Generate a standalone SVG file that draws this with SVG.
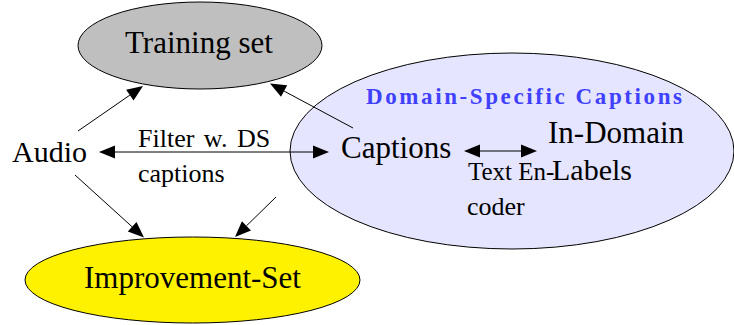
<svg xmlns="http://www.w3.org/2000/svg" width="734" height="325" viewBox="0 0 734 325">
  <style>
    .node { stroke: #000; stroke-width: 1; }
    .edge { stroke: #000; stroke-width: 1; fill: none; }
    .tip { fill: #000; stroke: none; }
  </style>

  <!-- domain-specific region -->
  <g id="domain-specific">
    <ellipse class="node" cx="512" cy="151" rx="222" ry="98" fill="#e5e5ff"/>
    <text x="366" y="104" font-family="Liberation Serif" font-size="23" font-weight="bold" letter-spacing="2.6" fill="#4040ff">Domain-Specific Captions</text>
  </g>

  <g id="training-set">
    <ellipse class="node" cx="200" cy="45.5" rx="122" ry="43.5" fill="#bfbfbf"/>
    <text x="125" y="53" font-family="Liberation Serif" font-size="31">Training set</text>
  </g>

  <g id="improvement-set">
    <ellipse class="node" cx="192.5" cy="280" rx="167.5" ry="43" fill="#fff200"/>
    <text x="84" y="288" font-family="Liberation Serif" font-size="31">Improvement-Set</text>
  </g>

  <g id="audio">
    <text x="12" y="162" font-family="Liberation Serif" font-size="30">Audio</text>
  </g>

  <g id="captions">
    <text x="341" y="158" font-family="Liberation Serif" font-size="31">Captions</text>
  </g>

  <g id="in-domain-labels">
    <text x="548" y="143" font-family="Liberation Serif" font-size="31">In-Domain</text>
    <text x="552" y="180" font-family="Liberation Serif" font-size="30">Labels</text>
  </g>

  <g id="connectors">
    <!-- Audio -> Training set -->
    <line class="edge" x1="78" y1="131" x2="129.9" y2="95.1"/>
    <polygon class="tip" points="143,86 133.55,100.44 126.15,89.76"/>
    <!-- Captions -> Training set -->
    <line class="edge" x1="353" y1="128" x2="284.1" y2="91.1"/>
    <polygon class="tip" points="270,83.5 287.17,85.33 281.03,96.79"/>
    <!-- Audio <-> Captions -->
    <line class="edge" x1="115" y1="152" x2="313" y2="152"/>
    <polygon class="tip" points="99,152 115,145.5 115,158.5"/>
    <polygon class="tip" points="329,152 313,145.5 313,158.5"/>
    <!-- Captions <-> In-Domain Labels -->
    <line class="edge" x1="480" y1="151" x2="521" y2="151"/>
    <polygon class="tip" points="464,151 480,144.5 480,157.5"/>
    <polygon class="tip" points="537,151 521,144.5 521,157.5"/>
    <!-- Audio -> Improvement-Set -->
    <line class="edge" x1="75" y1="175" x2="132.1" y2="226.8"/>
    <polygon class="tip" points="144,237.5 127.78,231.58 136.5,221.94"/>
    <!-- Captions -> Improvement-Set -->
    <line class="edge" x1="276" y1="197" x2="246.5" y2="225.8"/>
    <polygon class="tip" points="235,237 241.91,221.18 250.99,230.48"/>
  </g>

  <g id="edge-labels">
    <text x="138" y="147" font-family="Liberation Serif" font-size="26" word-spacing="3">Filter w. DS</text>
    <text x="138" y="182" font-family="Liberation Serif" font-size="26">captions</text>
    <text x="468" y="180" font-family="Liberation Serif" font-size="25">Text En-</text>
    <text x="467" y="215" font-family="Liberation Serif" font-size="26">coder</text>
  </g>
</svg>
